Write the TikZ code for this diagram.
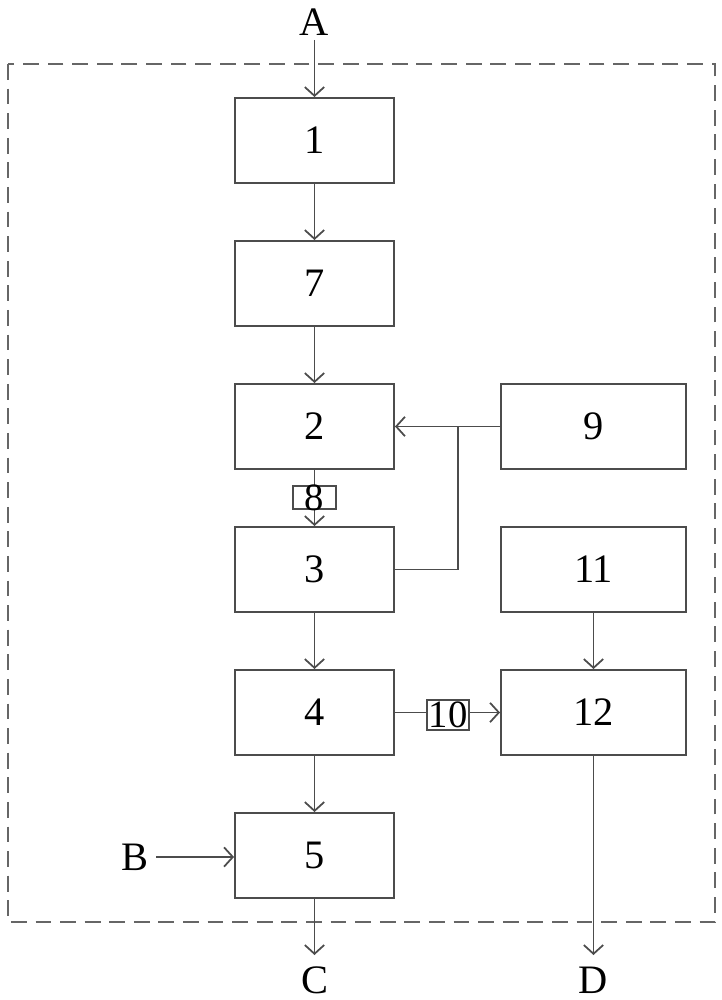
\documentclass[tikz,border=0pt]{standalone}
\usepackage{fontspec}
\setmainfont{Liberation Serif}
\usetikzlibrary{arrows.meta}
\begin{document}
\begin{tikzpicture}[x=0.02cm,y=-0.02cm,
  line width=1.1pt,
  ln/.style={draw=black!70,line width=1.1pt},
  blk/.style={draw=black!70,line width=1.1pt,minimum width=159*0.02cm,minimum height=85*0.02cm,inner sep=0pt,font=\fontsize{23}{26}\selectfont},
  wblk/.style={blk,minimum width=185*0.02cm},
  sblk/.style={draw=black!70,line width=0.9pt,inner sep=0pt,font=\fontsize{22}{24}\selectfont},
  lbl/.style={font=\fontsize{23}{26}\selectfont,inner sep=0pt},
  arr/.style={ln,-{Straight Barb[length=5pt,width=11pt,line width=1pt]}}]
\useasboundingbox (0,0) rectangle (722,1000);
\draw[dashed,dash pattern=on 9pt off 5pt,draw=black!60,line width=1.1pt] (8,64) rectangle (715,922);
\node[blk] (n1) at (314.5,140.5) {1};
\node[blk] (n7) at (314.5,283.5) {7};
\node[blk] (n2) at (314.5,426.5) {2};
\node[blk] (n3) at (314.5,569.5) {3};
\node[blk] (n4) at (314.5,712.5) {4};
\node[blk] (n5) at (314.5,855.5) {5};
\node[wblk] (n9) at (593.5,426.5) {9};
\node[wblk] (n11) at (593.5,569.5) {11};
\node[wblk] (n12) at (593.5,712.5) {12};
\node[lbl] (A) at (314.5,22) {A};
\node[lbl] (B) at (135,857) {B};
\node[lbl] (C) at (314.5,980) {C};
\node[lbl] (D) at (593.5,980) {D};
\coordinate (aS) at (314.5,40);
\coordinate (bS) at (156,857);
\coordinate (cE) at (314.5,955);
\coordinate (dE) at (593.5,955);
\coordinate (j) at (458,426.5);
\draw[arr] (aS) -- (n1.north);
\draw[arr] (n1) -- (n7);
\draw[arr] (n7) -- (n2);
\draw[arr] (n2) -- (n3);
\draw[arr] (n3) -- (n4);
\draw[arr] (n4) -- (n5);
\draw[arr] (bS) -- (n5.west |- bS);
\draw[arr] (n5.south) -- (cE);
\draw[arr] (n12.south) -- (dE);
\draw[arr] (n11) -- (n12);
\draw[arr] (n9) -- (n2);
\draw[ln] (j) |- (n3.east);
\draw[arr] (n4) -- (n12);
\node[sblk,fill=white,minimum width=43*0.02cm,minimum height=23*0.02cm] (n8) at (314.5,497.5) {};
\node[inner sep=0pt,font=\fontsize{22}{24}\selectfont] (t8) at (n8) {8};
\node[sblk,fill=white,minimum width=42*0.02cm,minimum height=30*0.02cm] (n10) at (448,715) {10};
\end{tikzpicture}
\end{document}
